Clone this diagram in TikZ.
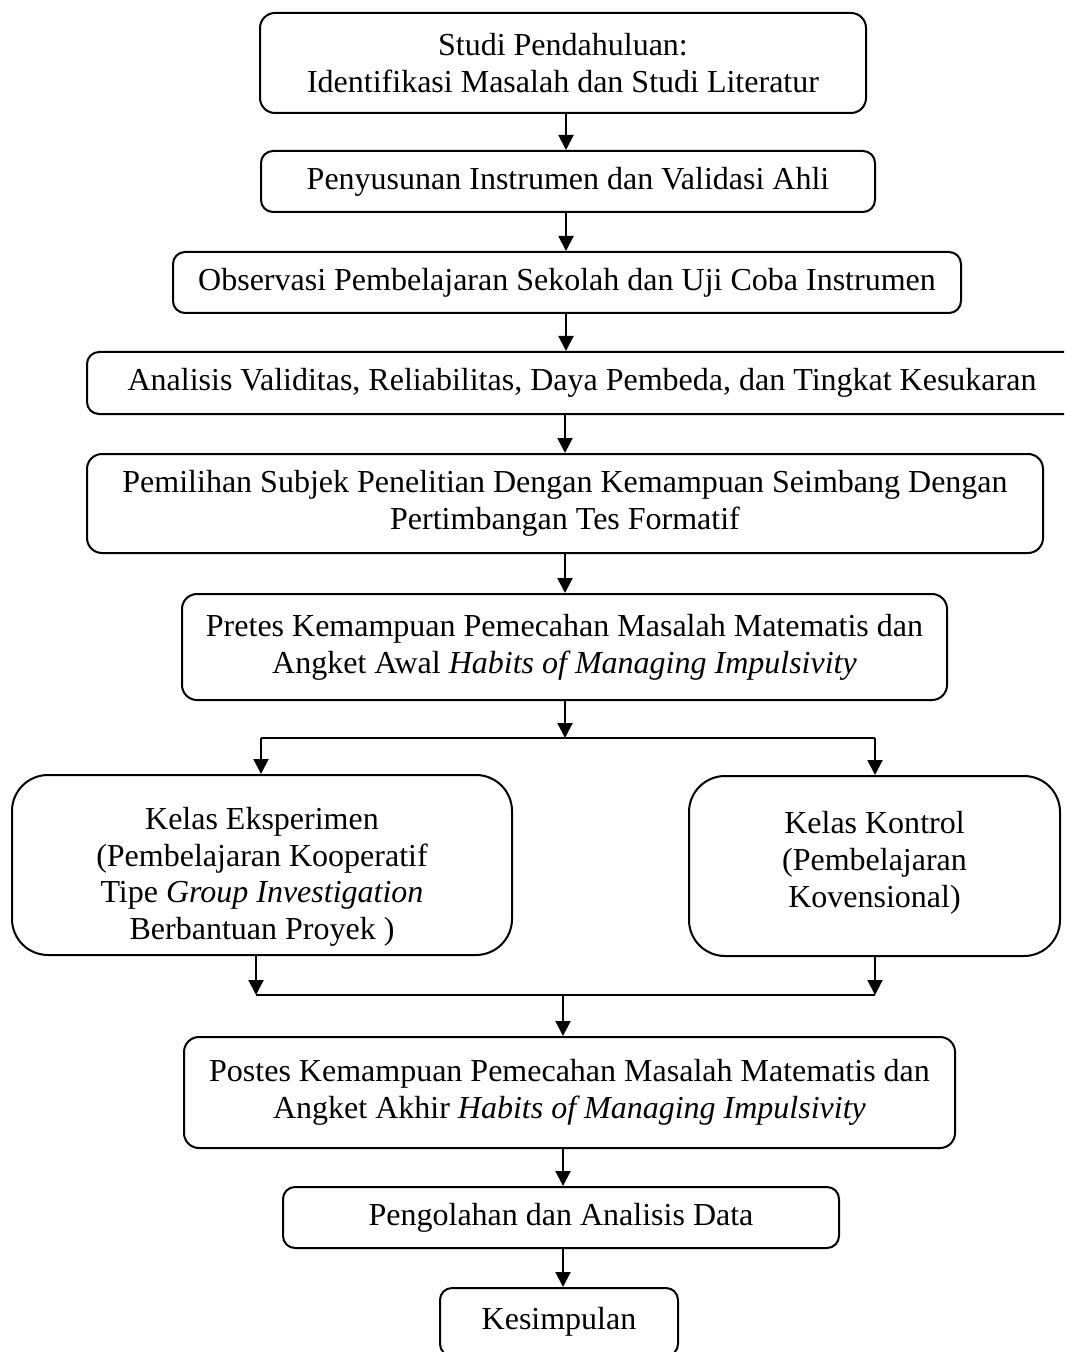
\documentclass[tikz,border=0pt]{standalone}
\usepackage{fontspec}
\setmainfont{Liberation Serif}
\usepackage{tikz,amsmath}
\usetikzlibrary{shapes,arrows,arrows.meta}
\usetikzlibrary{fit,backgrounds,positioning,calc}

\begin{document}
\begin{tikzpicture}[x=0.5pt, y=-0.5pt, align=center, line width=1pt, >={Triangle[length=7.5pt,width=7.5pt]}, font=\fontsize{16pt}{18.4pt}\selectfont]

%local definitions
\tikzstyle{Step} = [draw, rectangle, rounded corners=6pt, inner sep=2pt]
\tikzstyle{BigStep} = [Step, rounded corners=7.5pt]
\tikzstyle{ClassBox} = [draw, rectangle, rounded corners=18pt, inner sep=2pt, minimum width=250pt, minimum height=90pt]

\path[use as bounding box, clip] (0,0) rectangle (1064,1352);

\coordinate (spine) at (566,0);

%main loop
	\node [BigStep, minimum width=303pt, minimum height=50pt] (Study) at (563,63) {Studi Pendahuluan:\\Identifikasi Masalah dan Studi Literatur};
	\node [Step, minimum width=307pt, minimum height=30.5pt] (Instrumen) at (568,181.5) {Penyusunan Instrumen dan Validasi Ahli};
	\node [Step, minimum width=394pt, minimum height=30.5pt] (Observasi) at (567,282.5) {Observasi Pembelajaran Sekolah dan Uji Coba Instrumen};
	\node [Step, minimum width=495pt, minimum height=31pt] (Analisis) at (582,383) {Analisis Validitas, Reliabilitas, Daya Pembeda, dan Tingkat Kesukaran};
	\node [BigStep, minimum width=478pt, minimum height=49.5pt] (Pemilihan) at (565,503.5) {Pemilihan Subjek Penelitian Dengan Kemampuan Seimbang Dengan\\Pertimbangan Tes Formatif};
	\node [BigStep, minimum width=382.5pt, minimum height=53pt] (Pretes) at (564.5,647) {Pretes Kemampuan Pemecahan Masalah Matematis dan\\Angket Awal \textit{Habits of Managing Impulsivity}};

	\node [ClassBox] (Eksperimen) at (262,865) {\rule{0pt}{23pt}Kelas Eksperimen\\(Pembelajaran Kooperatif\\Tipe \textit{Group Investigation}\\Berbantuan Proyek )};
	\node [ClassBox, minimum width=185.5pt] (Kontrol) at (874.5,866) {\rule{0pt}{23pt}Kelas Kontrol\\(Pembelajaran\\Kovensional)\\\mbox{}};

	\node [BigStep, minimum width=385.5pt, minimum height=55.5pt] (Postes) at (569.5,1092.5) {Postes Kemampuan Pemecahan Masalah Matematis dan\\Angket Akhir \textit{Habits of Managing Impulsivity}};
	\node [Step, minimum width=278pt, minimum height=30.5pt] (Olah) at (561,1217.5) {Pengolahan dan Analisis Data};
	\node [Step, minimum width=119pt, minimum height=34pt] (Simpulan) at (559,1322) {Kesimpulan};

	\coordinate (splitL) at (261,738);
	\coordinate (splitC) at (565,738);
	\coordinate (splitR) at (875,738);
	\coordinate (joinL) at (256,995);
	\coordinate (joinC) at (563,995);
	\coordinate (joinR) at (875,995);

%connections
	\draw [->] (Study.south -| spine) -- (Instrumen.north -| spine);
	\draw [->] (Instrumen.south -| spine) -- (Observasi.north -| spine);
	\draw [->] (Observasi.south -| spine) -- (Analisis.north -| spine);
	\draw [->] (Analisis.south -| splitC) -- (Pemilihan.north -| splitC);
	\draw [->] (Pemilihan.south -| splitC) -- (Pretes.north -| splitC);
	\draw [->] (Pretes.south -| splitC) -- (splitC);

	\draw (splitL) -- (splitR);
	\draw [->] (splitL) -- (Eksperimen.north -| splitL);
	\draw [->] (splitR) -- (Kontrol.north -| splitR);

	\draw [->] (Eksperimen.south -| joinL) -- (joinL);
	\draw [->] (Kontrol.south -| joinR) -- (joinR);
	\draw (joinL) -- (joinR);
	\draw [->] (joinC) -- (Postes.north -| joinC);

	\draw [->] (Postes.south -| joinC) -- (Olah.north -| joinC);
	\draw [->] (Olah.south -| joinC) -- (Simpulan.north -| joinC);

\end{tikzpicture}
\end{document}
